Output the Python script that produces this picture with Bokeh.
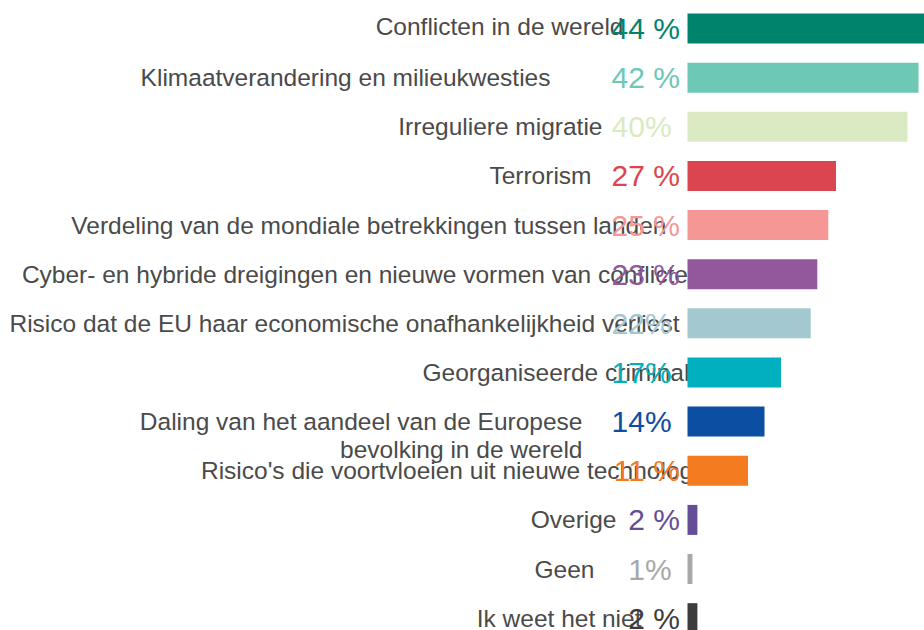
from bokeh.plotting import figure
from bokeh.models import ColumnDataSource, Range1d
from bokeh.core.properties import value
from bokeh.embed import file_html
from bokeh.resources import INLINE

# ---------------- data ----------------
categories = [
    "Conflicten in de wereld",
    "Klimaatverandering en milieukwesties",
    "Irreguliere migratie",
    "Terrorism",
    "Verdeling van de mondiale betrekkingen tussen landen",
    "Cyber- en hybride dreigingen en nieuwe vormen van conflicten",
    "Risico dat de EU haar economische onafhankelijkheid verliest",
    "Georganiseerde criminaliteit",
    "Daling van het aandeel van de Europese\nbevolking in de wereld",
    "Risico's die voortvloeien uit nieuwe technologieën",
    "Overige",
    "Geen",
    "Ik weet het niet",
]
values = [44, 42, 40, 27, 25.6, 23.6, 22.4, 17, 14, 11, 1.8, 0.9, 1.8]
value_labels = ["44 %", "42 %", "40%\u00a0", "27 %", "25 %", "23 %", "22%\u00a0",
                "17%\u00a0", "14%\u00a0", "11 %", "2 %", "1%\u00a0", "2 %"]
colors = ["#00836C", "#6DC8B6", "#DAEAC2", "#DB4550", "#F49795", "#93589B",
          "#A4C8D0", "#00B0BE", "#0B4EA2", "#F47B20", "#654E98", "#A8A8A8",
          "#3C3C3C"]

# ---------------- layout (pixels) ----------------
W, H = 924, 630
BAR_START = 687          # px from figure left where value 0 sits
PX_PER_UNIT = 5.5
ROW_PITCH = 49.14
FIRST_ROW = 28           # px from figure top to first row centre
label_dx = [-64, -137, -85, -96, -21, 14, -8, 40, -105, 52, -71, -93, -46]
label_dy = [-2, 0, 0, 0, 0, 0, 0, 0, 14, 0, 0, 0, 0]

rows = list(range(len(categories)))
src = ColumnDataSource(dict(
    y=rows, value=values, color=colors, cat=categories, vlab=value_labels,
    dx=label_dx, dy=label_dy,
))

x_range = Range1d(-BAR_START / PX_PER_UNIT, (W - BAR_START) / PX_PER_UNIT)
y_range = Range1d((H - FIRST_ROW) / ROW_PITCH, -FIRST_ROW / ROW_PITCH)

p = figure(width=W, height=H, x_range=x_range, y_range=y_range,
           output_backend="svg", toolbar_location=None, min_border=0)
p.axis.visible = False
p.grid.visible = False
p.outline_line_color = None
p.background_fill_color = "white"
p.border_fill_color = "white"

p.text(x=0, y="y", text="cat", source=src, x_offset="dx", y_offset="dy",
       text_align="right", text_baseline="middle",
       text_font=value("Liberation Sans"), text_font_size="24.5px",
       text_color="#4A4A4A", text_line_height=1.04)

p.text(x=0, y="y", text="vlab", source=src, x_offset=-7.5,
       text_align="right", text_baseline="middle",
       text_font=value("Liberation Sans"), text_font_size="30px",
       text_color="color")

p.hbar(y="y", left=0, right="value", height=30 / ROW_PITCH, source=src,
       fill_color="color", line_color=None)

open("out.html", "w").write(file_html(p, INLINE))
